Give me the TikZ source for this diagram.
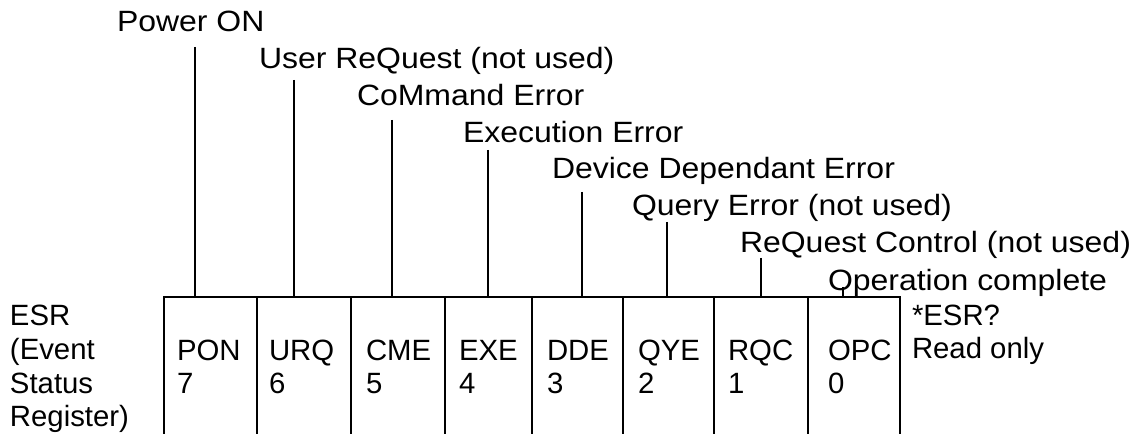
\documentclass[tikz,border=0pt]{standalone}
\usepackage{fontspec}
\setmainfont{Liberation Sans}
\newfontfamily\widesans[FakeStretch=1.09]{Liberation Sans}
\tikzset{
    every node/.style={inner sep=0pt, outer sep=0pt,
    	font=\fontsize{22}{25.3}\selectfont}
}
\tikzset{bitname/.style={anchor=base west, font=\fontsize{22}{25.3}\widesans}}

\begin{document}
\begin{tikzpicture}[x=0.75pt, y=-0.75pt,
	cell/.style={draw, line width=1.5pt, anchor=north west, minimum height=107.25pt},
	regtext/.style={anchor=base west, align=left},
	wire/.style={line width=1pt}]
	\clip (0,0) rectangle (1133,434);
	% register cells
	\node[cell, minimum width=69.75pt] (b7) at (164,297) {};
	\node[cell, minimum width=70.5pt] (b6) at (257,297) {};
	\node[cell, minimum width=70.5pt] (b5) at (351,297) {};
	\node[cell, minimum width=65.25pt] (b4) at (445,297) {};
	\node[cell, minimum width=68.25pt] (b3) at (532,297) {};
	\node[cell, minimum width=68.25pt] (b2) at (623,297) {};
	\node[cell, minimum width=70.5pt] (b1) at (714,297) {};
	\node[cell, minimum width=69pt] (b0) at (808,297) {};

	% base = last line
	\node[regtext] (esr) at (10,427) {ESR\\(Event\\Status\\Register)};
	\node[regtext] (r7) at (177,394) {PON\\7};
	\node[regtext] (r6) at (269,394) {URQ\\6};
	\node[regtext] (r5) at (366,394) {CME\\5};
	\node[regtext] (r4) at (459,394) {EXE\\4};
	\node[regtext] (r3) at (547,394) {DDE\\3};
	\node[regtext] (r2) at (638,394) {QYE\\2};
	\node[regtext] (r1) at (728,394) {RQC\\1};
	\node[regtext] (r0) at (828,394) {OPC\\0};
	\node[regtext] (rd) at (912,359) {*ESR?\\Read only};

	% bit names
	\node[bitname] (n7) at (117,32) {Power ON};
	\node[bitname] (n6) at (259,69) {User ReQuest (not used)};
	\node[bitname] (n5) at (357,106) {CoMmand Error};
	\node[bitname] (n4) at (463,143) {Execution Error};
	\node[bitname] (n3) at (552,179) {Device Dependant Error};
	\node[bitname] (n2) at (632,216) {Query Error (not used)};
	\node[bitname] (n1) at (740,253) {ReQuest Control (not used)};
	\node[bitname] (n0) at (828,291) {Operation complete};

	\coordinate (t7) at (195,47);
	\coordinate (t6) at (294,80);
	\coordinate (t5) at (392,120);
	\coordinate (t4) at (488,150);
	\coordinate (t3) at (582,192);
	\coordinate (t2) at (667,222);
	\coordinate (t1) at (761,258);
	\coordinate (t0) at (843,287);

	\draw[wire] (t7) -- (t7 |- b7.north); \draw[wire] (t6) -- (t6 |- b6.north);
	\draw[wire] (t5) -- (t5 |- b5.north); \draw[wire] (t4) -- (t4 |- b4.north);
	\draw[wire] (t3) -- (t3 |- b3.north); \draw[wire] (t2) -- (t2 |- b2.north);
	\draw[wire] (t1) -- (t1 |- b1.north); \draw[wire] (t0) -- (t0 |- b0.north);
\end{tikzpicture}
\end{document}
